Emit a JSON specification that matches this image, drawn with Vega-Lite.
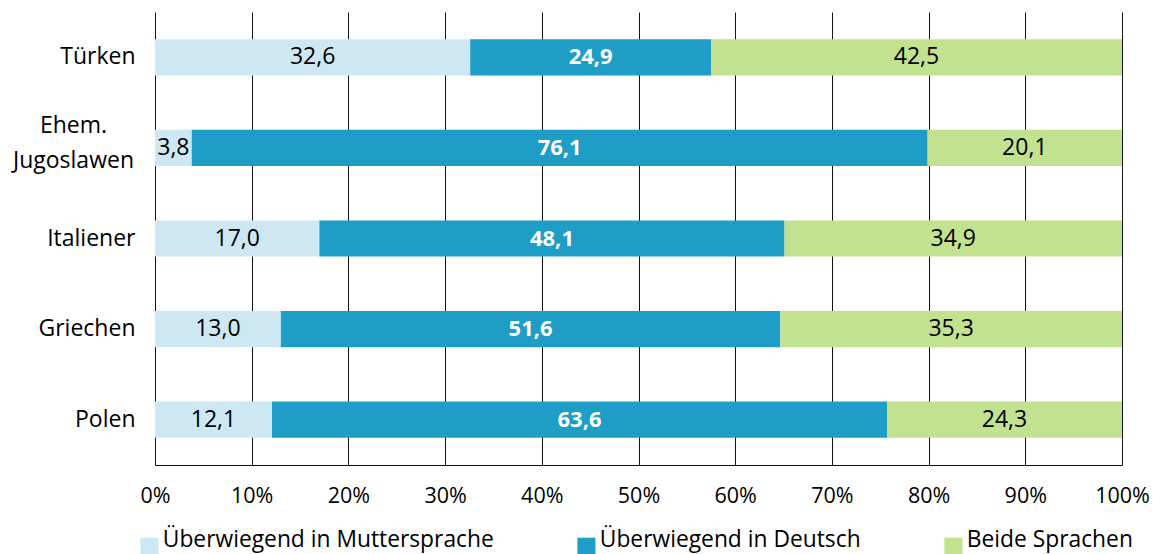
{
  "$schema": "https://vega.github.io/schema/vega-lite/v6.json",
  "autosize": "none",
  "width": 967,
  "height": 453,
  "padding": {"left": 155, "top": 12, "right": 34, "bottom": 89},
  "config": {
    "font": "Open Sans",
    "view": {"stroke": null},
    "locale": {"number": {"decimal": ",", "thousands": ".", "grouping": [3], "currency": ["", " €"]}}
  },
  "data": {
    "values": [
      {"g": "Türken", "s": "Überwiegend in Muttersprache", "k": 1, "v": 32.6},
      {"g": "Türken", "s": "Überwiegend in Deutsch", "k": 2, "v": 24.9},
      {"g": "Türken", "s": "Beide Sprachen", "k": 3, "v": 42.5},
      {"g": "Ehem. Jugoslawen", "s": "Überwiegend in Muttersprache", "k": 1, "v": 3.8},
      {"g": "Ehem. Jugoslawen", "s": "Überwiegend in Deutsch", "k": 2, "v": 76.1},
      {"g": "Ehem. Jugoslawen", "s": "Beide Sprachen", "k": 3, "v": 20.1},
      {"g": "Italiener", "s": "Überwiegend in Muttersprache", "k": 1, "v": 17.0},
      {"g": "Italiener", "s": "Überwiegend in Deutsch", "k": 2, "v": 48.1},
      {"g": "Italiener", "s": "Beide Sprachen", "k": 3, "v": 34.9},
      {"g": "Griechen", "s": "Überwiegend in Muttersprache", "k": 1, "v": 13.0},
      {"g": "Griechen", "s": "Überwiegend in Deutsch", "k": 2, "v": 51.6},
      {"g": "Griechen", "s": "Beide Sprachen", "k": 3, "v": 35.3},
      {"g": "Polen", "s": "Überwiegend in Muttersprache", "k": 1, "v": 12.1},
      {"g": "Polen", "s": "Überwiegend in Deutsch", "k": 2, "v": 63.6},
      {"g": "Polen", "s": "Beide Sprachen", "k": 3, "v": 24.3}
    ]
  },
  "transform": [
    {"stack": "v", "groupby": ["g"], "sort": [{"field": "k", "order": "ascending"}], "as": ["x0", "x1"], "offset": "normalize"},
    {"calculate": "(datum.x0 + datum.x1) / 2", "as": "xm"}
  ],
  "encoding": {
    "y": {
      "field": "g", "type": "nominal",
      "sort": ["Türken", "Ehem. Jugoslawen", "Italiener", "Griechen", "Polen"],
      "scale": {"paddingInner": 0.6, "paddingOuter": 0.3},
      "axis": {
        "title": null, "domain": false, "ticks": false,
        "labelPadding": {"condition": {"test": "datum.value == 'Ehem. Jugoslawen'", "value": 82}, "value": 20},
        "labelAlign": {"condition": {"test": "datum.value == 'Ehem. Jugoslawen'", "value": "center"}, "value": "right"},
        "labelFontSize": 23, "labelColor": "#000", "labelLineHeight": 35,
        "labelOffset": {"condition": {"test": "datum.value == 'Ehem. Jugoslawen'", "value": -22}, "value": 0},
        "labelExpr": "datum.value == 'Ehem. Jugoslawen' ? ['Ehem.', 'Jugoslawen'] : datum.value"
      }
    }
  },
  "layer": [
    {
      "mark": {"type": "bar"},
      "encoding": {
        "x": {
          "field": "x0", "type": "quantitative",
          "scale": {"domain": [0, 1], "nice": false},
          "axis": {
            "title": null, "values": [0, 0.1, 0.2, 0.3, 0.4, 0.5, 0.6, 0.7, 0.8, 0.9, 1],
            "format": ".0%", "grid": true, "gridColor": "#111", "gridOpacity": 1, "gridWidth": 1,
            "domainColor": "#111", "domainWidth": 1, "ticks": false,
            "labelFontSize": 21.5, "labelColor": "#000", "labelPadding": 20, "labelFlush": false
          }
        },
        "x2": {"field": "x1"},
        "color": {
          "field": "s", "type": "nominal",
          "scale": {
            "domain": ["Überwiegend in Muttersprache", "Überwiegend in Deutsch", "Beide Sprachen"],
            "range": ["#CDE8F2", "#1E9DC6", "#C3E28F"]
          },
          "legend": {
            "title": null, "orient": "none", "direction": "horizontal", "columns": 3,
            "legendX": -17, "legendY": 523, "symbolType": "square", "symbolSize": 324,
            "symbolStrokeWidth": 0, "symbolOpacity": 1, "labelFontSize": 22.8, "labelColor": "#000",
            "labelOffset": 2, "columnPadding": 81, "labelLimit": 500, "labelBaseline": "alphabetic"
          }
        }
      }
    },
    {
      "transform": [{"filter": "datum.k != 2"}],
      "mark": {"type": "text", "fontSize": 23, "color": "#000", "align": "center", "baseline": "middle"},
      "encoding": {
        "x": {"field": "xm", "type": "quantitative"},
        "text": {"field": "v", "type": "quantitative", "format": ".1f"}
      }
    },
    {
      "transform": [{"filter": "datum.k == 2"}],
      "mark": {"type": "text", "fontSize": 22, "color": "#fff", "fontWeight": "bold", "align": "center", "baseline": "middle"},
      "encoding": {
        "x": {"field": "xm", "type": "quantitative"},
        "text": {"field": "v", "type": "quantitative", "format": ".1f"}
      }
    }
  ]
}
